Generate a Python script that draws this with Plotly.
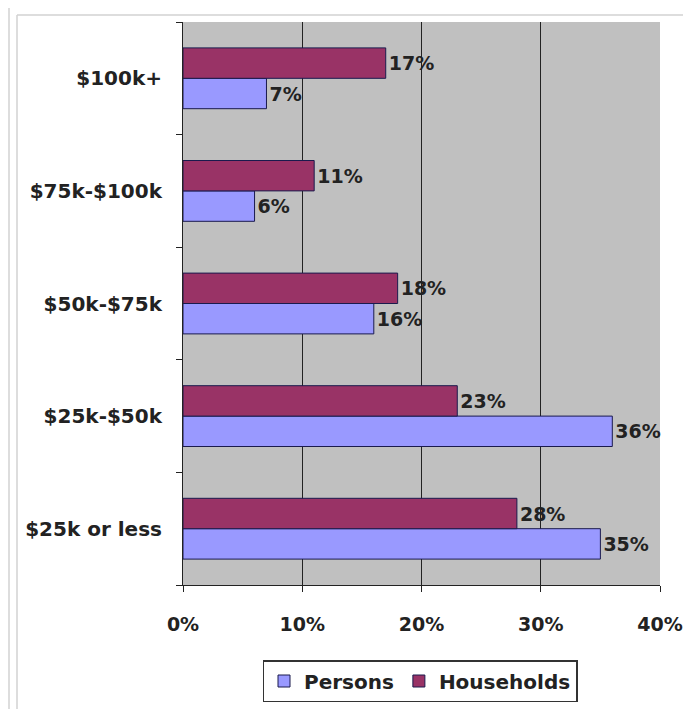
import plotly.graph_objects as go

categories = ["$25k or less", "$25k-$50k", "$50k-$75k", "$75k-$100k", "$100k+"]
persons = [35, 36, 16, 6, 7]
households = [28, 23, 18, 11, 17]
x_ticks = [0, 10, 20, 30, 40]
x_tick_labels = ["0%", "10%", "20%", "30%", "40%"]

# page body has an 8px margin: the figure is placed at (8, 8) on the page
OFF = 8
W, H = 691 - OFF, 709 - OFF
L, R, T = 183 - OFF, 31, 22 - OFF
pw, ph = W - L - R, 563
B = H - T - ph

def px(xp):
    return (xp - OFF - L) / pw

def py(yp):
    return (H - B - (yp - OFF)) / ph

FONT = "DejaVu Sans, Verdana, sans-serif"
TXT = "#222222"

fig = go.Figure()
fig.add_trace(go.Bar(
    name="Persons", y=categories, x=persons, orientation="h",
    marker=dict(color="#9999FF", line=dict(color="#1a1a4d", width=1)),
    text=[f"{v}%" for v in persons], textposition="outside", cliponaxis=False,
    textfont=dict(family=FONT, size=19, color=TXT, weight="bold"),
))
fig.add_trace(go.Bar(
    name="Households", y=categories, x=households, orientation="h",
    marker=dict(color="#993366", line=dict(color="#1a1a4d", width=1)),
    text=[f"{v}%" for v in households], textposition="outside", cliponaxis=False,
    textfont=dict(family=FONT, size=19, color=TXT, weight="bold"),
))

border = "#d2d2d2"
shapes = [
    dict(type="line", xref="paper", yref="paper", x0=px(9), x1=px(9), y0=py(7), y1=py(712), line=dict(color=border, width=1.5)),
    dict(type="line", xref="paper", yref="paper", x0=px(9), x1=px(695), y0=py(7), y1=py(7), line=dict(color=border, width=1.5)),
    dict(type="line", xref="paper", yref="paper", x0=px(17), x1=px(17), y0=py(15), y1=py(712), line=dict(color=border, width=1.5)),
    dict(type="line", xref="paper", yref="paper", x0=px(17), x1=px(688), y0=py(15), y1=py(15), line=dict(color=border, width=1.5)),
    dict(type="line", xref="paper", yref="paper", x0=px(688), x1=px(688), y0=py(15), y1=py(712), line=dict(color=border, width=1.5)),
]

fig.update_layout(
    width=W, height=H,
    margin=dict(l=L, r=R, t=T, b=B, autoexpand=False),
    paper_bgcolor="white", plot_bgcolor="#C0C0C0",
    barmode="group", bargap=0.46, bargroupgap=0,
    showlegend=True,
    legend=dict(
        orientation="h", x=px(420), y=py(681), xanchor="center", yanchor="middle",
        bordercolor="#333", borderwidth=1.5, bgcolor="white",
        font=dict(family=FONT, size=20, color=TXT, weight="bold"),
        traceorder="normal", itemwidth=30,
    ),
    xaxis=dict(
        range=[0, 40], tickvals=x_ticks, ticktext=x_tick_labels,
        showgrid=True, gridcolor="#222", gridwidth=1,
        showline=True, linecolor="#222", linewidth=1,
        ticks="outside", ticklen=6, tickcolor="#222",
        ticklabelstandoff=16, zeroline=False,
        tickfont=dict(family=FONT, size=19, color=TXT, weight="bold"),
        fixedrange=True,
    ),
    yaxis=dict(
        categoryorder="array", categoryarray=categories,
        tickson="boundaries", ticks="outside", ticklen=6, tickcolor="#222",
        showline=True, linecolor="#222", linewidth=1, showgrid=False,
        ticklabelstandoff=16,
        tickfont=dict(family=FONT, size=20, color=TXT, weight="bold"),
        fixedrange=True,
    ),
    shapes=shapes,
)

fig.write_html("out.html")
